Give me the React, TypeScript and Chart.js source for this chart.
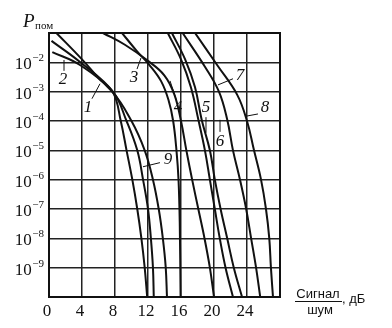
import React, { useEffect, useRef } from "react";
import { Chart, registerables } from "chart.js";

Chart.register(...registerables);

// x: signal/noise, dB ; second value: exponent of P (P = 10^exp)
const curve1: number[][] = [[0.9, -1.0], [4.0, -1.9], [5.9, -2.5], [7.8, -3.05], [8.7, -4.0], [9.4, -5.0], [10.1, -6.0], [10.7, -7.0], [11.2, -8.0], [11.6, -9.0], [11.9, -10]];
const curve2: number[][] = [[0.4, -1.65], [3.8, -2.1], [7.65, -3.0], [10.0, -4.0], [11.6, -5.0], [12.6, -6.0], [13.3, -7.0], [13.8, -8.0], [14.15, -9.0], [14.3, -10]];
const curve3: number[][] = [[8.85, -1.0], [10.6, -1.6], [12.2, -2.1], [13.6, -2.65], [14.5, -3.3], [15.05, -4.0], [15.45, -5.0], [15.7, -6.0], [15.85, -7.5], [15.95, -10]];
const curve4: number[][] = [[6.55, -1.0], [9.2, -1.4], [12.0, -1.95], [14.0, -2.45], [15.2, -3.1], [16.0, -4.0], [16.65, -5.0], [17.35, -6.0], [18.1, -7.0], [18.85, -8.0], [19.5, -9.0], [20.0, -10]];
const curve5: number[][] = [[14.4, -1.0], [16.0, -1.9], [17.2, -2.85], [18.1, -3.95], [18.9, -5.0], [19.5, -6.0], [20.1, -7.0], [20.7, -8.0], [21.4, -9.0], [22.3, -10]];
const curve6: number[][] = [[14.9, -1.0], [16.5, -1.9], [17.7, -2.85], [18.5, -3.95], [19.5, -5.0], [20.1, -6.0], [20.8, -7.0], [21.6, -8.0], [22.4, -9.0], [23.4, -10]];
const curve7: number[][] = [[16.2, -1.0], [18.9, -2.15], [20.6, -3.0], [21.6, -3.95], [22.3, -5.0], [23.15, -6.0], [23.9, -7.0], [24.5, -8.0], [25.1, -9.0], [25.6, -10]];
const curve8: number[][] = [[17.7, -1.0], [20.4, -2.1], [22.8, -3.1], [24.0, -4.0], [24.85, -5.0], [25.7, -6.0], [26.3, -7.0], [26.7, -8.0], [26.9, -9.0], [27.15, -10]];
const curve9: number[][] = [[0.3, -1.27], [3.8, -2.0], [7.75, -3.0], [9.4, -4.0], [10.7, -5.0], [11.4, -6.0], [12.0, -7.0], [12.35, -8.0], [12.6, -9.0], [12.7, -10]];

const curves = [curve1, curve2, curve3, curve4, curve5, curve6, curve7, curve8, curve9];

const xTickLabels = [0, 4, 8, 12, 16, 20, 24];
const yTickExps = [-2, -3, -4, -5, -6, -7, -8, -9];
const gridExps = [-10, -9, -8, -7, -6, -5, -4, -3, -2, -1];

const labelTexts = ["1", "2", "3", "4", "5", "6", "7", "8", "9"];
const labelAt: number[][] = [[4.73, -3.55], [1.7, -2.6], [10.3, -2.53], [15.64, -3.55], [19.03, -3.55], [20.73, -4.71], [23.15, -2.46], [26.18, -3.55], [14.42, -5.32]];
const leaderFrom: number[][] = [[5.21, -3.24], [1.82, -2.29], [10.67, -2.23], [15.39, -3.24], [19.03, -3.87], [20.73, -4.37], [22.3, -2.56], [25.33, -3.76], [13.45, -5.42]];
const leaderTo: number[][] = [[6.18, -2.73], [1.82, -1.92], [11.15, -1.85], [14.67, -2.63], [19.03, -4.4], [20.73, -3.96], [20.48, -2.77], [24.0, -3.83], [11.39, -5.56]];

const SERIF = '"Liberation Serif", "DejaVu Serif", serif';
const SANS = '"Liberation Sans", Arial, sans-serif';

const textPlugin = {
  id: "textPlugin",
  afterDraw(chart: any) {
    const ctx = chart.ctx as CanvasRenderingContext2D;
    const xs = chart.scales.x;
    const ys = chart.scales.y;
    const px = (v: number) => xs.getPixelForValue(v);
    const py = (e: number) => ys.getPixelForValue(Math.pow(10, e));
    const area = chart.chartArea;
    ctx.save();
    // frame
    ctx.strokeStyle = "#111";
    ctx.lineWidth = 2;
    ctx.strokeRect(area.left, area.top, area.right - area.left, area.bottom - area.top);

    ctx.fillStyle = "#111";
    // y tick labels
    for (const e of yTickExps) {
      const y = py(e);
      const sup = "\u2212" + String(-e);
      ctx.font = `11px ${SERIF}`;
      const supW = ctx.measureText(sup).width;
      const rightEdge = 44;
      ctx.textAlign = "left";
      ctx.textBaseline = "alphabetic";
      ctx.fillText(sup, rightEdge - supW, y - 1);
      ctx.font = `17px ${SERIF}`;
      ctx.textAlign = "right";
      ctx.fillText("10", rightEdge - supW - 0.5, y + 7);
    }
    // x tick labels
    ctx.font = `17px ${SERIF}`;
    ctx.textAlign = "center";
    ctx.textBaseline = "alphabetic";
    for (const v of xTickLabels) {
      ctx.fillText(String(v), px(v) - 2, 316);
    }
    // y title
    ctx.font = `italic 19px ${SERIF}`;
    ctx.textAlign = "left";
    ctx.fillText("P", 23, 27);
    ctx.font = `11px ${SERIF}`;
    ctx.fillText("пом", 35, 29);
    // x title
    ctx.font = `13px ${SANS}`;
    ctx.textAlign = "center";
    ctx.fillText("Сигнал", 318, 298);
    ctx.fillText("шум", 320, 314);
    ctx.lineWidth = 1;
    ctx.beginPath();
    ctx.moveTo(295, 301.5);
    ctx.lineTo(342, 301.5);
    ctx.stroke();
    ctx.textAlign = "left";
    ctx.fillText(", дБ", 342, 303);

    // curve labels with leaders
    ctx.lineWidth = 1;
    for (let i = 0; i < labelTexts.length; i++) {
      ctx.beginPath();
      ctx.moveTo(px(leaderFrom[i][0]), py(leaderFrom[i][1]));
      ctx.lineTo(px(leaderTo[i][0]), py(leaderTo[i][1]));
      ctx.stroke();
      ctx.font = `italic 17px ${SERIF}`;
      ctx.textAlign = "center";
      ctx.textBaseline = "middle";
      ctx.fillText(labelTexts[i], px(labelAt[i][0]), py(labelAt[i][1]));
    }
    ctx.restore();
  },
};

export default function App() {
  const ref = useRef<HTMLCanvasElement>(null);
  useEffect(() => {
    if (!ref.current) return;
    const datasets = curves.map((c) => ({
      data: c.map(([x, e]) => ({ x, y: Math.pow(10, e) })),
      showLine: true,
      borderColor: "#111",
      borderWidth: 2,
      pointRadius: 0,
      tension: 0.4,
      fill: false,
    }));
    const chart = new Chart(ref.current, {
      type: "scatter",
      data: { datasets },
      options: {
        animation: false,
        responsive: false,
        maintainAspectRatio: false,
        layout: { padding: { left: 49, top: 33, right: 112, bottom: 31 } },
        plugins: { legend: { display: false }, tooltip: { enabled: false } },
        scales: {
          x: {
            type: "linear",
            min: 0,
            max: 28,
            ticks: { display: false, stepSize: 4 },
            grid: { color: "#222", lineWidth: 1.5, drawTicks: false },
            border: { display: true, color: "#111", width: 2 },
          },
          y: {
            type: "logarithmic",
            min: 1e-10,
            max: 1e-1,
            ticks: { display: false },
            afterBuildTicks: (scale: any) => {
              scale.ticks = gridExps.map((e) => ({ value: Math.pow(10, e) }));
            },
            grid: { color: "#222", lineWidth: 1.5, drawTicks: false },
            border: { display: true, color: "#111", width: 2 },
          },
        },
      } as any,
      plugins: [textPlugin],
    });
    return () => chart.destroy();
  }, []);
  return (
    <div style={{ position: "absolute", left: 0, top: 0, width: 392, height: 328, background: "#fff" }}>
      <canvas ref={ref} width={392} height={328} style={{ display: "block" }} />
    </div>
  );
}
